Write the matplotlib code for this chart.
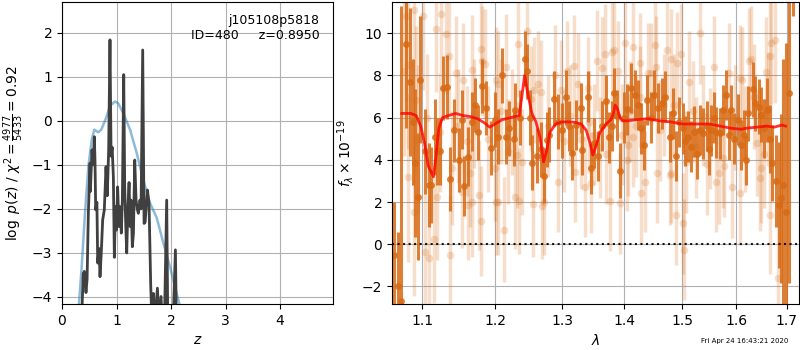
import matplotlib
matplotlib.use("Agg")
import matplotlib.pyplot as plt
from matplotlib.ticker import FixedLocator, NullLocator, FixedFormatter
import numpy as np

# ---------------- left panel: p(z) ----------------
z_prior = [0.28, 0.312, 0.361, 0.422, 0.483, 0.545, 0.593, 0.666, 0.72, 0.807, 0.88,
           0.972, 1.03, 1.125, 1.248, 1.37, 1.49, 1.615, 1.737, 1.86, 1.98, 2.07, 2.15, 2.22]
logp_prior = [-5.0, -4.14, -3.31, -2.09, -1.04, -0.43, -0.2, -0.26, -0.2, 0.06, 0.34,
              0.44, 0.4, 0.17, -0.2, -0.73, -1.34, -1.87, -2.2, -2.78, -3.31, -3.77, -4.14, -4.6]

z_pz = [0.30, 0.36, 0.39, 0.41, 0.44, 0.46, 0.483, 0.514, 0.52, 0.55, 0.57, 0.593, 0.605,
        0.618, 0.64, 0.655, 0.68, 0.697, 0.72, 0.746, 0.776, 0.807, 0.83, 0.856, 0.88,
        0.90, 0.92, 0.942, 0.96, 0.98, 1.00, 1.02, 1.045, 1.063, 1.088, 1.107, 1.132,
        1.15, 1.17, 1.187, 1.205, 1.23, 1.248, 1.266, 1.29, 1.31, 1.334, 1.358, 1.38,
        1.40, 1.43, 1.45, 1.48, 1.505, 1.525, 1.566, 1.596, 1.627, 1.65, 1.676, 1.70,
        1.75, 1.78, 1.816, 1.84, 1.88, 1.92, 1.94, 2.04, 2.08, 2.10, 2.15]
logpz = [-6.0, -4.5, -3.46, -3.42, -3.9, -3.6, -2.1, -0.96, -1.6, -0.66, -1.0, -0.36, -0.9,
         -2.02, -1.85, -3.23, -2.9, -3.54, -3.0, -2.25, -2.02, -1.04, -1.7, -0.66, 1.84,
         -0.8, -0.6, -1.27, -3.1, -1.95, -2.48, -1.5, -2.4, -1.95, -2.55, -1.8, 1.05,
         -1.5, -2.4, -3.0, -2.1, -1.4, -2.4, -1.8, -2.86, -2.55, -0.89, -1.8, -2.0,
         -2.1, -1.8, -2.0, 1.61, -2.33, -2.3, -1.57, -1.87, -3.73, -4.6, -3.92, -4.6,
         -3.8, -4.6, -3.99, -4.6, -4.5, -1.8, -4.6, -4.5, -2.93, -4.8, -6.0]

# ---------------- right panel: spectrum ----------------
lam_bin = [1.0640, 1.0680, 1.0720, 1.0793, 1.0835, 1.0880, 1.0899, 1.0944, 1.0974, 1.1030,
           1.1088, 1.1120, 1.1167, 1.1200, 1.1241, 1.1274, 1.1330, 1.1375, 1.1420, 1.1487,
           1.1530, 1.1569, 1.1624, 1.1679, 1.1716, 1.1756, 1.1815, 1.1870, 1.1937, 1.2000,
           1.2040, 1.2106, 1.2155, 1.2195, 1.2267, 1.2292, 1.2360, 1.2430, 1.2465, 1.2510,
           1.2548, 1.2620, 1.2680, 1.2715, 1.2766, 1.2805, 1.2882, 1.2935, 1.3000, 1.3067,
           1.3110, 1.3160, 1.3221, 1.3296, 1.3317, 1.3400, 1.3453, 1.3510, 1.3570, 1.3640,
           1.3707, 1.3745, 1.3790, 1.3832, 1.3880, 1.3932, 1.3990, 1.4050, 1.4112, 1.4190,
           1.4240, 1.4292, 1.4343, 1.4390, 1.4450, 1.4506, 1.4576, 1.4645, 1.4703, 1.4779,
           1.4839, 1.4885, 1.4950, 1.5018, 1.5060, 1.5105, 1.5167, 1.5215, 1.5270, 1.5318,
           1.5380, 1.5450, 1.5490, 1.5535, 1.5580, 1.5630, 1.5689, 1.5755, 1.5814, 1.5860,
           1.5904, 1.5960, 1.6030, 1.6097, 1.6147, 1.6190, 1.6238, 1.6321, 1.6367, 1.6450,
           1.6494, 1.6547, 1.6610, 1.6660, 1.6709, 1.6780, 1.6844, 1.6891, 1.6931, 1.6991,
           1.7045, 1.7120]
flux_bin = [-0.5, -2.0, -2.7, 9.5, 7.7, 5.8, 3.84, 2.26, 7.8, 4.4,
            2.8, 2.8, 5.1, 4.4, 4.4, 7.4, 7.45, 3.1, 5.4, 4.0,
            5.9, 2.76, 4.15, 5.8, 6.6, 5.3, 7.5, 6.46, 4.56, 5.9,
            5.1, 8.0, 5.1, 5.5, 5.0, 6.36, 6.0, 8.8, 8.2, 6.0,
            3.87, 4.2, 4.5, 3.24, 4.95, 5.2, 6.9, 5.8, 5.4, 6.97,
            5.6, 4.34, 5.65, 6.45, 4.47, 7.0, 3.6, 4.8, 4.18, 5.6,
            6.8, 5.07, 5.6, 7.16, 6.1, 3.49, 6.0, 6.4, 7.4, 7.07,
            6.6, 5.5, 4.7, 6.84, 6.0, 7.07, 6.45, 6.68, 7.0, 5.1,
            6.2, 4.18, 5.8, 5.5, 4.9, 5.1, 4.63, 5.34, 4.3, 5.42,
            5.26, 5.6, 4.5, 5.4, 6.0, 5.3, 5.26, 6.36, 7.07, 5.2,
            6.36, 5.0, 5.9, 4.7, 5.18, 4.0, 6.2, 7.35, 6.68, 6.52,
            6.13, 5.5, 6.36, 5.0, 3.87, 3.0, 1.86, 2.18, 2.8, 1.55,
            7.16, 12.0]
err_bin = [2.5, 2.6, 14.0, 4.0, 3.5, 3.0, 3.5, 3.0, 3.0, 2.0,
           2.0, 1.8, 1.8, 1.6, 1.6, 1.5, 1.5, 1.5, 1.5, 1.5,
           1.4, 1.4, 1.4, 1.4, 1.3, 1.3, 1.3, 1.3, 1.3, 1.3,
           1.3, 1.3, 1.3, 1.3, 1.3, 1.3, 1.3, 1.3, 1.3, 1.3,
           1.3, 1.3, 1.3, 1.3, 1.3, 1.3, 1.3, 1.3, 1.3, 1.3,
           1.2, 1.3, 1.2, 1.2, 1.2, 1.2, 1.2, 1.2, 1.2, 1.2,
           1.2, 1.2, 1.2, 1.2, 1.2, 1.3, 1.2, 1.2, 1.2, 1.2,
           1.2, 1.2, 1.2, 1.2, 1.2, 1.2, 1.2, 1.2, 1.2, 1.2,
           1.2, 1.2, 1.2, 1.2, 1.2, 1.2, 1.2, 1.2, 1.2, 1.2,
           1.2, 1.2, 1.2, 1.2, 1.2, 1.2, 1.2, 1.2, 1.2, 1.2,
           1.2, 1.2, 1.2, 1.2, 1.2, 1.2, 1.3, 1.3, 1.3, 1.3,
           1.3, 1.4, 1.5, 1.6, 1.8, 2.2, 3.0, 4.0, 6.0, 8.0,
           9.0, 1.2]

lam_raw = [1.0764, 1.0790, 1.0820, 1.0820, 1.0895, 1.0895, 1.0920, 1.0950, 1.1010, 1.1035,
           1.1060, 1.1095, 1.1157, 1.1176, 1.1196, 1.1230, 1.1255, 1.1320, 1.1355, 1.1375,
           1.1400, 1.1455, 1.1480, 1.1530, 1.1543, 1.1600, 1.1615, 1.1650, 1.1670, 1.1670,
           1.1700, 1.1775, 1.1800, 1.1800, 1.1820, 1.1850, 1.1900, 1.2000, 1.2013, 1.2013,
           1.2040, 1.2040, 1.2080, 1.2135, 1.2155, 1.2190, 1.2250, 1.2285, 1.2317, 1.2332,
           1.2350, 1.2390, 1.2465, 1.2520, 1.2560, 1.2573, 1.2635, 1.2670, 1.2685, 1.2715,
           1.2790, 1.2890, 1.2935, 1.2980, 1.3030, 1.3083, 1.3130, 1.3187, 1.3203, 1.3253,
           1.3300, 1.3360, 1.3400, 1.3420, 1.3460, 1.3500, 1.3560, 1.3600, 1.3638, 1.3680,
           1.3700, 1.3762, 1.3800, 1.3830, 1.3893, 1.3926, 1.3960, 1.4020, 1.4050, 1.4067,
           1.4100, 1.4150, 1.4153, 1.4200, 1.4265, 1.4266, 1.4283, 1.4355, 1.4400, 1.4460,
           1.4517, 1.4535, 1.4565, 1.4620, 1.4680, 1.4738, 1.4779, 1.4797, 1.4800, 1.4860,
           1.4898, 1.4917, 1.4975, 1.5018, 1.5030, 1.5070, 1.5120, 1.5200, 1.5250, 1.5320,
           1.5380, 1.5460, 1.5520, 1.5585, 1.5616, 1.5672, 1.5750, 1.5775, 1.5860, 1.5920,
           1.5990, 1.6083, 1.6083, 1.6120, 1.6180, 1.6255, 1.6285, 1.6350, 1.6400, 1.6470,
           1.6480, 1.6550, 1.6580, 1.6620, 1.6667, 1.6667, 1.6680, 1.6758, 1.6824]
flux_raw = [8.2, 10.8, 8.5, 3.18, 11.1, 1.55, 6.84, 5.0, 10.8, -0.35,
            6.0, -0.66, 0.24, 10.2, 2.26, 5.3, 10.9, 9.97, 8.9, -0.5,
            3.6, 8.1, 5.6, 2.5, 7.8, 4.9, 1.86, 3.4, 8.26, 2.0,
            6.2, 2.34, 9.24, 1.1, 8.7, 8.55, 5.0, 3.6, 7.8, 2.0,
            7.6, 2.0, 6.3, 0.7, 8.4, 4.4, 5.8, 2.26, 4.23, 9.5,
            2.05, 3.9, 10.1, 6.9, 1.9, 7.3, 7.6, 7.2, 1.8, 2.0,
            5.6, 8.0, 2.97, 7.3, 4.9, 8.2, 6.1, 8.45, 3.44, 7.6,
            5.0, 2.73, 7.4, 5.8, 2.92, 5.2, 8.7, 4.6, 8.35, 9.0,
            4.3, 2.07, 9.1, 9.2, 8.2, 1.94, 5.2, 9.55, 4.0, 4.7,
            6.3, 5.1, 9.34, 5.6, 7.0, 8.57, 2.45, 2.97, 8.1, 8.1,
            9.45, 8.4, 3.4, 5.4, 6.6, 9.2, 3.3, 8.77, 3.4, 6.6,
            1.4, 8.6, 9.0, 1.0, -0.25, 3.9, 7.7, 6.3, 4.6, 10.0,
            6.1, 3.8, 5.0, 8.4, 2.97, 3.36, 4.1, 3.7, 8.1, 2.7,
            6.0, 7.87, 2.45, 7.8, 5.0, 8.7, 8.77, 7.0, 4.8, 3.13,
            3.6, 4.3, 8.18, 6.4, 8.92, 1.39, 9.55, 9.7, -1.6]
err_raw = [4.0, 4.0, 4.0, 4.0, 4.0, 4.0, 3.5, 3.5, 3.5, 3.0,
           3.0, 3.0, 3.0, 3.0, 3.0, 2.8, 2.8, 2.8, 2.8, 2.8,
           2.7, 2.7, 2.7, 2.7, 2.7, 2.6, 2.6, 2.6, 2.6, 2.6,
           2.6, 2.6, 2.6, 2.6, 2.6, 2.6, 2.5, 2.5, 2.5, 2.5,
           2.5, 2.5, 2.5, 2.5, 2.5, 2.5, 2.5, 2.5, 2.5, 2.5,
           2.5, 2.5, 2.5, 2.5, 2.5, 2.5, 2.5, 2.5, 2.5, 2.5,
           2.4, 2.4, 2.4, 2.4, 2.4, 2.4, 2.4, 2.4, 2.4, 2.4,
           2.4, 2.4, 2.4, 2.4, 2.4, 2.4, 2.4, 2.4, 2.4, 2.4,
           2.4, 2.4, 2.4, 2.4, 2.4, 2.4, 2.4, 2.4, 2.4, 2.4,
           2.4, 2.4, 2.4, 2.4, 2.4, 2.4, 2.4, 2.4, 2.4, 2.4,
           2.4, 2.4, 2.4, 2.4, 2.4, 2.4, 2.4, 2.4, 2.4, 2.4,
           2.4, 2.4, 2.4, 2.4, 2.4, 2.4, 2.4, 2.4, 2.4, 2.4,
           2.4, 2.4, 2.4, 2.4, 2.4, 2.4, 2.4, 2.4, 2.4, 2.4,
           2.5, 2.5, 2.5, 2.5, 2.5, 2.5, 2.5, 2.5, 2.5, 2.5,
           2.6, 2.6, 2.6, 2.7, 2.8, 2.8, 2.9, 3.0, 3.5]

lam_model = [1.0735, 1.085, 1.092, 1.098, 1.103, 1.108, 1.1148, 1.118, 1.122, 1.127,
             1.135, 1.145, 1.155, 1.165, 1.175, 1.185, 1.1922, 1.2, 1.21, 1.222,
             1.235, 1.239, 1.243, 1.248, 1.254, 1.26, 1.266, 1.2715, 1.276, 1.281,
             1.29, 1.30, 1.31, 1.32, 1.33, 1.338, 1.344, 1.3485, 1.353, 1.36,
             1.37, 1.378, 1.382, 1.385, 1.389, 1.393, 1.397, 1.405, 1.42, 1.44,
             1.46, 1.48, 1.50, 1.52, 1.55, 1.57, 1.59, 1.61, 1.62, 1.64,
             1.66, 1.675, 1.69, 1.6975]
flux_model = [6.2, 6.2, 6.1, 5.6, 4.8, 3.7, 3.2, 4.1, 5.5, 6.0,
              6.1, 6.2, 6.1, 6.05, 5.95, 5.75, 5.55, 5.7, 5.9, 6.0,
              6.1, 7.0, 8.0, 7.1, 6.2, 5.8, 5.1, 3.9, 4.4, 5.3,
              5.7, 5.8, 5.8, 5.78, 5.7, 5.4, 4.8, 4.23, 4.6, 5.3,
              5.7, 5.9, 6.2, 6.6, 6.4, 6.0, 5.85, 5.85, 5.9, 5.95,
              5.85, 5.8, 5.7, 5.7, 5.7, 5.6, 5.5, 5.45, 5.5, 5.55,
              5.6, 5.55, 5.65, 5.6]

title_lines = "j105108p5818\nID=480     z=0.8950"
timestamp = "Fri Apr 24 16:43:21 2020"
lam_ticks = [1.1, 1.2, 1.3, 1.4, 1.5, 1.6, 1.7]

# ---------------- figure ----------------
fig = plt.figure(figsize=(8, 3.5), dpi=100)
ax1 = fig.add_axes([62/800, 46/350, 271/800, 302/350])
ax2 = fig.add_axes([392/800, 46/350, 407/800, 302/350])

# left
ax1.plot(z_prior, logp_prior, color='tab:blue', alpha=0.5, lw=1.8)
ax1.plot(z_pz, logpz, color='0.25', lw=2.0)
ax1.set_xlim(0, 4.97)
ax1.set_ylim(-4.16, 2.70)
ax1.set_xticks([0, 1, 2, 3, 4])
ax1.set_yticks([-4, -3, -2, -1, 0, 1, 2])
ax1.grid(True)
ax1.set_xlabel(r'$z$')
ax1.set_ylabel(r'$\log\ p(z)$' + ' / ' + r'$\chi^2=\frac{4977}{5433}=0.92$')
ax1.text(0.95, 0.96, title_lines, ha='right', va='top', fontsize=9,
         transform=ax1.transAxes)

# right
dark = '#d86a14'
ax2.errorbar(lam_raw, flux_raw, yerr=err_raw, marker='o', ms=5.5, linestyle='None',
             color=dark, alpha=0.22, elinewidth=2.5, capsize=0, markeredgewidth=0)
ax2.errorbar(lam_bin, flux_bin, yerr=err_bin, marker='o', ms=5, linestyle='None',
             color=dark, alpha=0.85, elinewidth=2.2, capsize=0, markeredgewidth=0)
ax2.plot(lam_model, flux_model, color='r', alpha=0.8, lw=2, zorder=5)
ax2.axhline(0, color='k', linestyle=':', lw=1.5, alpha=0.9)
ax2.set_xscale('log')
ax2.set_xlim(1.061, 1.725)
ax2.set_ylim(-2.83, 11.48)
ax2.xaxis.set_major_locator(FixedLocator(lam_ticks))
ax2.xaxis.set_major_formatter(FixedFormatter([f'{t:.1f}' for t in lam_ticks]))
ax2.xaxis.set_minor_locator(NullLocator())
ax2.set_yticks([-2, 0, 2, 4, 6, 8, 10])
ax2.grid(True)
ax2.set_xlabel(r'$\lambda$')
ax2.set_ylabel(r'$f_\lambda\times10^{-19}$')

fig.text(0.985, 0.026, timestamp, ha='right', va='center', fontsize=5)

fig.savefig('out.png', dpi=100)
